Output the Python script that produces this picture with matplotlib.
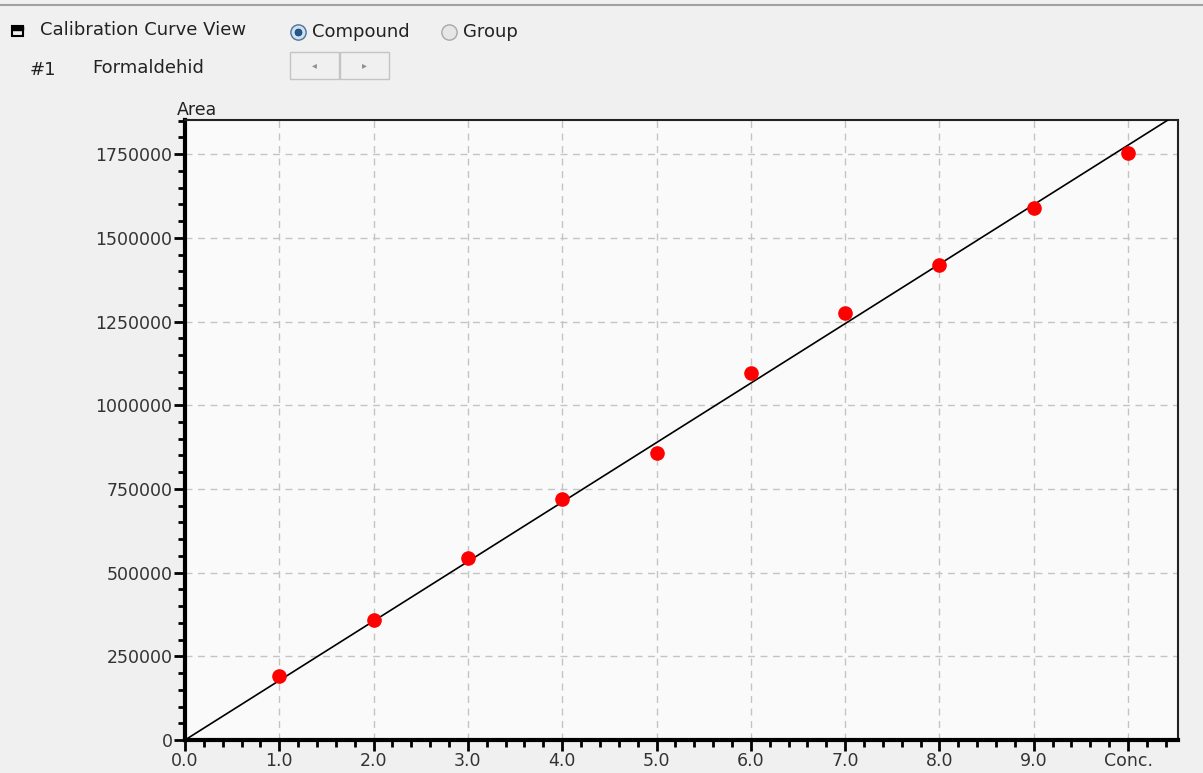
import numpy as np
import matplotlib.pyplot as plt
from matplotlib.patches import Rectangle
from matplotlib.ticker import MultipleLocator

# calibration levels and peak areas
conc = [1, 2, 3, 4, 5, 6, 7, 8, 9, 10]
area = [190000, 357000, 545000, 720000, 857000, 1097000, 1274000, 1419000, 1590000, 1754000]
x_ticks = [0, 1, 2, 3, 4, 5, 6, 7, 8, 9, 10]
x_labels = ['0.0', '1.0', '2.0', '3.0', '4.0', '5.0', '6.0', '7.0', '8.0', '9.0', 'Conc.']
y_ticks = [0, 250000, 500000, 750000, 1000000, 1250000, 1500000, 1750000]

plt.rcParams['font.family'] = ['DejaVu Sans']

W, H = 1203, 773
fig = plt.figure(figsize=(W / 100, H / 100), dpi=100, facecolor='#f0f0f0')


def fx(px):
    return px / W


def fy(py):
    return 1 - py / H


# linear fit through origin
c = np.array(conc, dtype=float)
a = np.array(area, dtype=float)
slope = (c * a).sum() / (c * c).sum()

ax = fig.add_axes([fx(185), fy(740), fx(1178) - fx(185), fy(120) - fy(740)])
ax.set_facecolor('#fafafa')
fit_x = np.array([0.0, 11.0])
ax.plot(fit_x, slope * fit_x, color='black', lw=1.2, zorder=3)
ax.plot(conc, area, 'o', color='#ff0000', markersize=9.5, zorder=4)

ax.set_xlim(0, 10.53)
ax.set_ylim(0, 1852000)
ax.set_xticks(x_ticks)
ax.set_xticklabels(x_labels)
ax.set_yticks(y_ticks)
ax.set_yticklabels([str(v) for v in y_ticks])
ax.xaxis.set_minor_locator(MultipleLocator(0.2))
ax.yaxis.set_minor_locator(MultipleLocator(50000))
ax.grid(True, which='major', ls=(0, (5, 4)), color='#c4c4c4', lw=1)
ax.tick_params(which='major', direction='out', length=8, width=2, labelsize=12.5,
               colors='black', labelcolor='#333333', pad=1)
ax.tick_params(which='minor', direction='out', length=5, width=2, colors='black')
ax.tick_params(top=False, right=False, which='both')
for s in ['left', 'bottom']:
    ax.spines[s].set_linewidth(3)
for s in ['top', 'right']:
    ax.spines[s].set_linewidth(1.5)
    ax.spines[s].set_color('#222222')

# header controls
fig.add_artist(plt.Line2D([0, 1], [fy(5), fy(5)], color='#a0a0a0', lw=1.5))
fig.add_artist(Rectangle((fx(12), fy(36)), fx(11), 10 / H, fill=False, ec='black', lw=1.5))
fig.add_artist(Rectangle((fx(12), fy(30)), fx(11), 4 / H, color='black'))
fig.text(fx(40), fy(30), 'Calibration Curve View', fontsize=13, va='center', color='#222222')

fig.add_artist(plt.Line2D([fx(298)], [fy(32)], marker='o', markersize=11,
                          mfc='#cfe0f0', mec='#4f7396', mew=1, transform=fig.transFigure))
fig.add_artist(plt.Line2D([fx(298)], [fy(32)], marker='o', markersize=5,
                          mfc='#1d5a96', mec='#123c66', mew=0.5, transform=fig.transFigure))
fig.text(fx(312), fy(32), 'Compound', fontsize=13, va='center', color='#222222')
fig.add_artist(plt.Line2D([fx(449)], [fy(32)], marker='o', markersize=11,
                          mfc='#e6e6e6', mec='#a8a8a8', mew=1, transform=fig.transFigure))
fig.text(fx(463), fy(32), 'Group', fontsize=13, va='center', color='#222222')

fig.text(fx(30), fy(70), '#1', fontsize=13, va='center', color='#222222')
fig.text(fx(92), fy(68), 'Formaldehid', fontsize=13, va='center', color='#222222')
for bx, arrow in [(290, '\u25c2'), (340, '\u25b8')]:
    fig.add_artist(Rectangle((fx(bx), fy(79)), fx(49), 27 / H,
                             fc='#f0f0f0', ec='#c4c4c4', lw=1))
    fig.text(fx(bx + 24.5), fy(65), arrow, fontsize=7, ha='center', va='center', color='#909090')
fig.text(fx(197), fy(110), 'Area', fontsize=12.5, ha='center', va='center', color='#222222')

fig.savefig('out.png', dpi=100, facecolor=fig.get_facecolor())
